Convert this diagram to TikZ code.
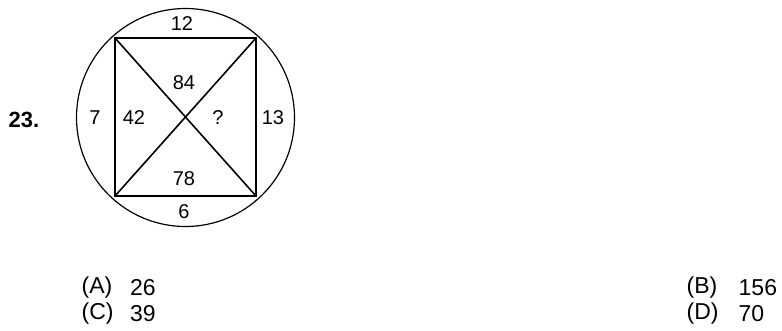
\documentclass[tikz,border=0pt]{standalone}
\usepackage{fontspec}
\setmainfont{Liberation Sans}
\begin{document}
\begin{tikzpicture}[x=1pt,y=-1pt,
  lbl/.style={inner sep=0pt,font=\fontsize{20}{23}\selectfont},
  ans/.style={inner sep=0pt,anchor=west,font=\fontsize{23}{26}\selectfont},
  sq/.style={line width=1.6pt},
  circ/.style={line width=1.2pt}]
\useasboundingbox (0,0) rectangle (782,330);
\coordinate (c) at (185.5,117.5);
\draw[circ] (c) circle[radius=109];
\coordinate (tl) at (115,38);
\coordinate (tr) at (256,38);
\coordinate (br) at (256,196);
\coordinate (bl) at (115,196);
\draw[sq] (tl) -- (tr) -- (br) -- (bl) -- cycle;
\draw[sq] (tl) -- (br);
\draw[sq] (tr) -- (bl);
\node[lbl] (n12) at (182,24) {12};
\node[lbl] (n84) at (184,83) {84};
\node[lbl] (n7) at (95,118) {7};
\node[lbl] (n42) at (134,118) {42};
\node[lbl] (nq) at (218,118) {?};
\node[lbl] (n13) at (273,118) {13};
\node[lbl] (n78) at (184,179) {78};
\node[lbl] (n6) at (184,212) {6};
\node[inner sep=0pt,font=\fontsize{22}{26}\selectfont\bfseries] (num) at (24,120) {23.};
\node[ans] (a1) at (81.5,288) {(A)};
\node[ans] (a2) at (130,288) {26};
\node[ans] (c1) at (81.5,314) {(C)};
\node[ans] (c2) at (130,314) {39};
\node[ans] (b1) at (686.5,288) {(B)};
\node[ans] (b2) at (738.5,288) {156};
\node[ans] (d1) at (686.5,314) {(D)};
\node[ans] (d2) at (738.5,314) {70};
\end{tikzpicture}
\end{document}
